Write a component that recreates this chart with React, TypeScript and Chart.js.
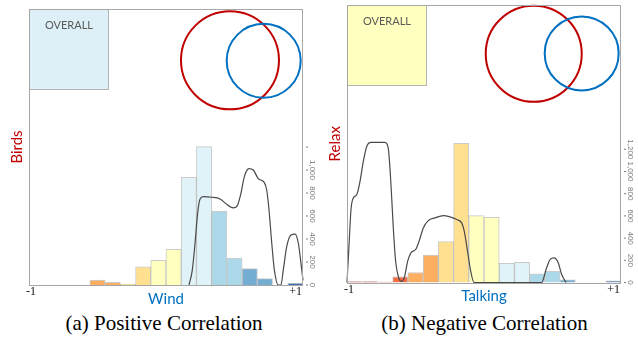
import React, { useEffect, useRef } from 'react';
import { Chart, registerables } from 'chart.js';

Chart.register(...registerables);

// 18 correlation bins from -1 to +1 (bin centres)
const binLabels = ['-0.94', '-0.83', '-0.72', '-0.61', '-0.50', '-0.39', '-0.28', '-0.17', '-0.06',
  '0.06', '0.17', '0.28', '0.39', '0.50', '0.61', '0.72', '0.83', '0.94'];
const binColors = ['#d73027', '#d73027', '#f46d43', '#f46d43', '#fdae61', '#fdae61', '#fee090', '#fee090',
  '#ffffbf', '#ffffbf', '#e0f3f8', '#e0f3f8', '#abd9e9', '#abd9e9', '#74add1', '#74add1', '#4575b4', '#4575b4'];

// Right-hand count axis
const yTickValues = [0, 200, 400, 600, 800, 1000, 1200];
const yTickLabelsA = ['0', '200', '400', '600', '800', '1,000', ''];
const yTickLabelsB = ['0', '200', '400', '600', '800', '1,000', '1,200'];
const xEndLabels = ['-1', '+1'];

// (a) Positive correlation: Birds vs Wind
const windCounts = [0, 0, 0, 0, 43, 23, 9, 157, 215, 310, 937, 1203, 641, 235, 143, 56, 0, 15];
const windDensityX = [0.168, 0.192, 0.212, 0.231, 0.248, 0.272, 0.334, 0.394, 0.443, 0.491, 0.523, 0.547, 0.572,
  0.606, 0.637, 0.674, 0.718, 0.735, 0.752, 0.772, 0.791, 0.820, 0.839, 0.856, 0.881, 0.912, 0.942, 0.966, 0.991, 1.0];
const windDensityY = [0, 130, 363, 623, 745, 768, 763, 748, 702, 670, 696, 797, 942,
  1012, 1000, 925, 890, 826, 652, 363, 130, 0, 0, 130, 333, 435, 443, 363, 130, 40];
const windVennX = [0.467, 0.713];
const windVennY = [1954, 1950];
const windVennR = [49, 37];

// (b) Negative correlation: Relax vs Talking
const talkingCounts = [9, 9, 5, 50, 90, 248, 369, 1254, 602, 587, 173, 182, 77, 101, 23, 0, 0, 14];
const talkingDensityX = [-1.0, -0.985, -0.971, -0.954, -0.929, -0.905, -0.881, -0.856, -0.825, -0.723, -0.699, -0.679,
  -0.662, -0.645, -0.626, -0.606, -0.582, -0.557, -0.533, -0.499, -0.474, -0.443, -0.407, -0.358, -0.297, -0.248,
  -0.199, -0.163, -0.144, -0.122, -0.097, -0.073, 0.421, 0.453, 0.482, 0.511, 0.542, 0.567, 0.599];
const talkingDensityY = [0, 342, 656, 762, 791, 911, 1091, 1226, 1262, 1262, 1211, 881,
  492, 192, 57, 10, 42, 192, 267, 297, 371, 492, 558, 582, 603, 591,
  567, 537, 461, 297, 102, 0, 0, 117, 207, 222, 177, 72, 0];
const talkingVennX = [0.363, 0.713];
const talkingVennY = [2061, 2064];
const talkingVennR = [48, 37];

const vennColors = ['#c00000', '#0070c0'];

type Panel = {
  counts: number[];
  dx: number[];
  dy: number[];
  vx: number[];
  vy: number[];
  vr: number[];
  yMax: number;
  tickLabels: string[];
  overallColor: string;
  xTitle: string;
  yTitle: string;
  padding: { left: number; right: number; top: number; bottom: number };
};

const panelA: Panel = {
  counts: windCounts, dx: windDensityX, dy: windDensityY, vx: windVennX, vy: windVennY, vr: windVennR,
  yMax: 2400, tickLabels: yTickLabelsA, overallColor: '#ddf0f7', xTitle: 'Wind', yTitle: 'Birds',
  padding: { left: 29, right: 16, top: 9, bottom: 20 },
};
const panelB: Panel = {
  counts: talkingCounts, dx: talkingDensityX, dy: talkingDensityY, vx: talkingVennX, vy: talkingVennY, vr: talkingVennR,
  yMax: 2500, tickLabels: yTickLabelsB, overallColor: '#ffffc0', xTitle: 'Talking', yTitle: 'Relax',
  padding: { left: 28, right: 17, top: 5, bottom: 22.5 },
};

function makeDecor(p: Panel) {
  return {
    id: 'decor',
    beforeDatasetsDraw(chart: any) {
      const { ctx, chartArea: a } = chart;
      ctx.save();
      ctx.fillStyle = p.overallColor;
      ctx.fillRect(a.left, a.top, 80, 81);
      ctx.strokeStyle = '#b4b4b4';
      ctx.lineWidth = 1;
      ctx.strokeRect(Math.round(a.left) + 0.5, Math.round(a.top) + 0.5, 79, 80);
      ctx.fillStyle = '#595959';
      ctx.font = '11px Lato';
      ctx.textAlign = 'center';
      ctx.textBaseline = 'middle';
      ctx.fillText('OVERALL', a.left + 40, a.top + 16);
      ctx.restore();
    },
    afterDraw(chart: any) {
      const { ctx, chartArea: a } = chart;
      const y = chart.scales.y;
      const x2 = chart.scales.x2;
      ctx.save();
      // frame
      ctx.strokeStyle = '#a6a6a6';
      ctx.lineWidth = 1;
      ctx.strokeRect(Math.round(a.left) + 0.5, Math.round(a.top) + 0.5,
        Math.round(a.right - a.left) - 1, Math.round(a.bottom - a.top));
      // right axis ticks, rotated labels
      ctx.fillStyle = '#7a7a7a';
      ctx.font = '8px "Liberation Sans"';
      ctx.textAlign = 'center';
      ctx.textBaseline = 'middle';
      yTickValues.forEach((v, i) => {
        const py = y.getPixelForValue(v);
        ctx.fillRect(a.right + 3, py - 0.5, 2, 1);
        const label = p.tickLabels[i];
        if (label) {
          ctx.save();
          ctx.translate(a.right + 9.5, py);
          ctx.rotate(Math.PI / 2);
          ctx.fillText(label, 0, 0);
          ctx.restore();
        }
      });
      // -1 / +1
      ctx.fillStyle = '#111';
      ctx.font = '12px "Liberation Serif"';
      ctx.textBaseline = 'middle';
      ctx.textAlign = 'left';
      ctx.fillText(xEndLabels[0], x2.getPixelForValue(-1) - 3, a.bottom + 7);
      ctx.textAlign = 'right';
      ctx.fillText(xEndLabels[1], x2.getPixelForValue(1) - 1, a.bottom + 7);
      // axis titles
      ctx.font = '15px Lato';
      ctx.textAlign = 'center';
      ctx.fillStyle = '#0070c0';
      ctx.fillText(p.xTitle, (a.left + a.right) / 2, a.bottom + 14);
      ctx.fillStyle = '#c00000';
      ctx.save();
      ctx.translate(a.left - 12, (a.top + a.bottom) / 2);
      ctx.rotate(-Math.PI / 2);
      ctx.fillText(p.yTitle, 0, 0);
      ctx.restore();
      ctx.restore();
    },
  };
}

function PanelChart({ p, left }: { p: Panel; left: number }) {
  const ref = useRef<HTMLCanvasElement>(null);
  useEffect(() => {
    const canvas = ref.current!;
    const chart = new Chart(canvas, {
      type: 'bar',
      data: {
        labels: binLabels,
        datasets: [
          {
            type: 'bubble',
            data: p.vx.map((x, i) => ({ x, y: p.vy[i], r: p.vr[i] })),
            xAxisID: 'x2',
            yAxisID: 'y',
            backgroundColor: 'rgba(0,0,0,0)',
            borderColor: vennColors,
            borderWidth: 2,
            hoverBorderWidth: 2,
            clip: false,
            order: 0,
          } as any,
          {
            type: 'line',
            data: p.dx.map((x, i) => ({ x, y: p.dy[i] })),
            xAxisID: 'x2',
            yAxisID: 'y',
            borderColor: '#4a4a4a',
            borderWidth: 1.2,
            pointRadius: 0,
            cubicInterpolationMode: 'monotone',
            fill: false,
            clip: 2,
            order: 1,
          } as any,
          {
            type: 'bar',
            data: p.counts,
            xAxisID: 'x',
            yAxisID: 'y',
            backgroundColor: binColors,
            borderColor: 'rgba(140,140,140,0.45)',
            borderWidth: 1,
            borderSkipped: 'bottom',
            barPercentage: 1,
            categoryPercentage: 1,
            grouped: false,
            order: 2,
          } as any,
        ],
      },
      options: {
        animation: false,
        responsive: false,
        devicePixelRatio: 1,
        events: [],
        layout: { padding: p.padding, autoPadding: false },
        plugins: { legend: { display: false }, tooltip: { enabled: false } },
        scales: {
          x: { type: 'category', display: false, offset: true },
          x2: { type: 'linear', display: false, min: -1, max: 1, offset: false, grid: { offset: false } },
          y: { type: 'linear', display: false, min: 0, max: p.yMax },
        },
      } as any,
      plugins: [makeDecor(p)],
    });
    return () => chart.destroy();
  }, [p]);
  return (
    <canvas
      ref={ref}
      width={319}
      height={305}
      style={{ position: 'absolute', left, top: 0, width: 319, height: 305 }}
    />
  );
}

const captionStyle: React.CSSProperties = {
  position: 'absolute',
  top: 311,
  width: 300,
  textAlign: 'center',
  fontFamily: '"Liberation Serif", "Times New Roman", serif',
  fontSize: 21,
  lineHeight: '24px',
  color: '#000',
  whiteSpace: 'nowrap',
};

export default function App() {
  return (
    <div style={{ position: 'fixed', left: 0, top: 0, width: 638, height: 339, background: '#fff', overflow: 'hidden' }}>
      <PanelChart p={panelA} left={0} />
      <PanelChart p={panelB} left={319} />
      <div style={{ ...captionStyle, left: 164 - 150 }}>(a) Positive Correlation</div>
      <div style={{ ...captionStyle, left: 484.5 - 150 }}>(b) Negative Correlation</div>
    </div>
  );
}
